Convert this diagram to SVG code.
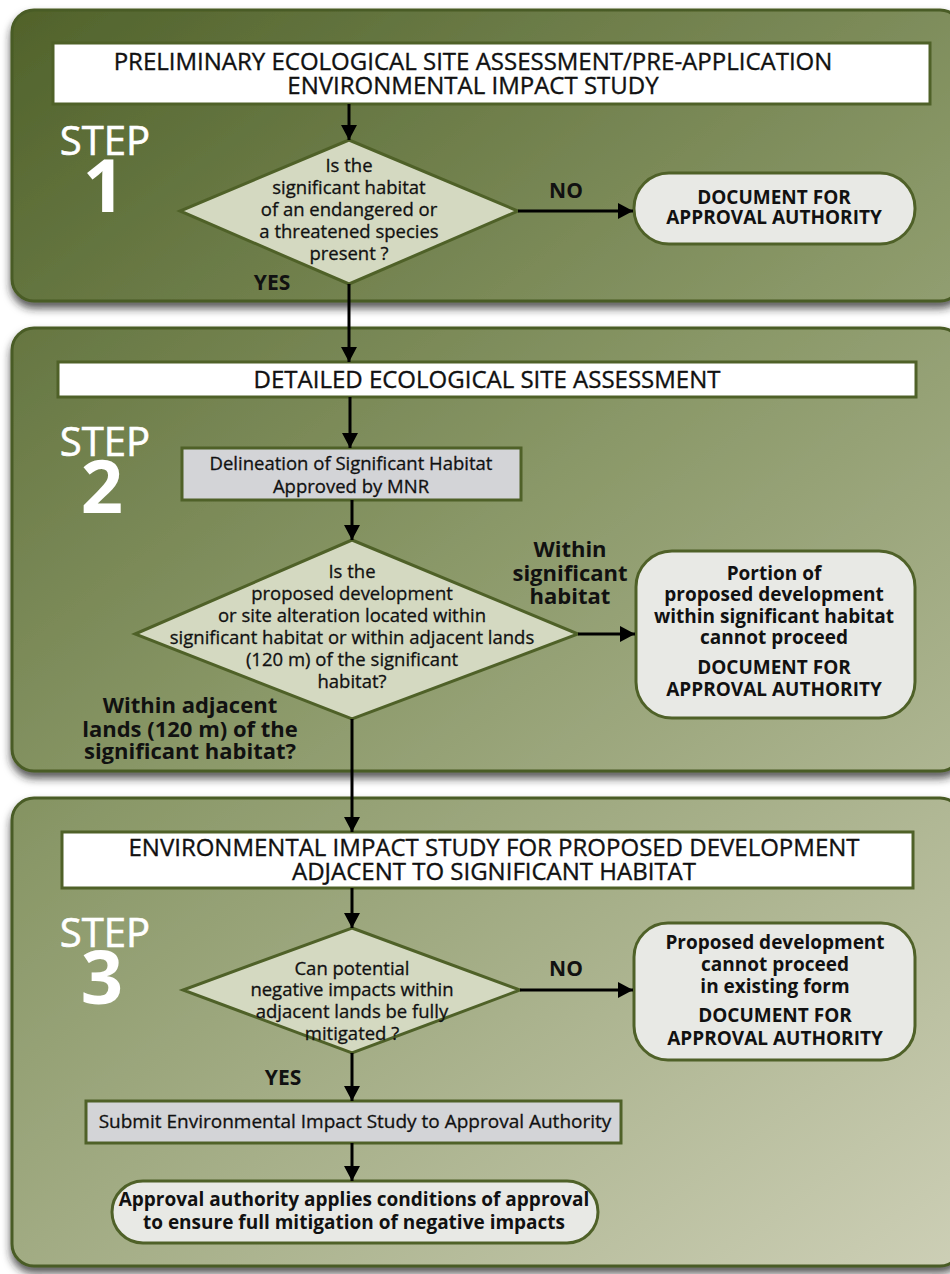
<svg xmlns="http://www.w3.org/2000/svg" width="950" height="1274" viewBox="0 0 950 1274">
<defs>
<linearGradient id="bg" gradientUnits="userSpaceOnUse" x1="0" y1="0" x2="950" y2="1274">
<stop offset="0" stop-color="#4f6129"/>
<stop offset="0.45" stop-color="#8a9868"/>
<stop offset="1" stop-color="#cdcfb6"/>
</linearGradient>
<filter id="sh" x="-5%" y="-5%" width="110%" height="115%">
<feDropShadow dx="0" dy="6" stdDeviation="4" flood-color="#222" flood-opacity="0.75"/>
</filter>
<marker id="ah" markerUnits="userSpaceOnUse" markerWidth="16" markerHeight="16" refX="15" refY="8" orient="auto">
<path d="M0,0 L15,8 L0,16 z" fill="#000"/>
</marker>
</defs>
<style>
.panel{fill:url(#bg);stroke:#4a5c25;stroke-width:3;filter:url(#sh)}
.title{fill:#fff;stroke:#4f6128;stroke-width:3}
.dia{fill:#d4d9c1;stroke:#4f6128;stroke-width:3}
.rbox{fill:#e8e9e5;stroke:#4f6128;stroke-width:3}
.gbox{fill:#d3d4d7;stroke:#4f6128;stroke-width:3}
.conn line{stroke:#000;stroke-width:3;marker-end:url(#ah)}
text{font-family:"Open Sans",Lato,"Liberation Sans",sans-serif;fill:#111;text-anchor:middle}
.tt{font-size:24px;stroke:#111;stroke-width:0.35}
.q{font-size:18.5px;stroke:#111;stroke-width:0.3}
.s{font-size:19px;stroke:#111;stroke-width:0.3}
.b{font-size:19px;font-weight:700}
.lbl{font-size:21px;font-weight:700}
.big{font-size:22px;font-weight:700}
.step{font-size:40px;fill:#fff;stroke:#fff;stroke-width:0.6}
.num{font-size:74px;font-weight:700;stroke:none}
</style>

<rect class="panel" x="12" y="10" width="950" height="291" rx="22"/>
<rect class="panel" x="12" y="328" width="950" height="443" rx="22"/>
<rect class="panel" x="12" y="798" width="950" height="468" rx="22"/>

<g id="step1">
<text class="step" x="105" y="155">STEP<tspan class="num" x="104" y="212">1</tspan></text>
</g>
<g id="step2">
<text class="step" x="105" y="456">STEP<tspan class="num" x="102" y="513">2</tspan></text>
</g>
<g id="step3">
<text class="step" x="105" y="947">STEP<tspan class="num" x="102" y="1004">3</tspan></text>
</g>

<g id="title1">
<rect class="title" x="53" y="43" width="877" height="61"/>
<text class="tt" x="473" y="70">PRELIMINARY ECOLOGICAL SITE ASSESSMENT/PRE-APPLICATION<tspan x="473" dy="24">ENVIRONMENTAL IMPACT STUDY</tspan></text>
</g>

<g id="diamond1">
<polygon class="dia" points="349,140 518,211 349,284 180,211"/>
<text class="q" x="349" y="172">Is the<tspan x="349" dy="22">significant habitat</tspan><tspan x="349" dy="22">of an endangered or</tspan><tspan x="349" dy="22">a threatened species</tspan><tspan x="349" dy="22">present ?</tspan></text>
</g>

<g id="doc1">
<rect class="rbox" x="634" y="173" width="281" height="71" rx="35"/>
<text class="b" x="774" y="204">DOCUMENT FOR<tspan x="774" dy="20">APPROVAL AUTHORITY</tspan></text>
</g>

<g id="title2">
<rect class="title" x="58" y="362" width="858" height="35"/>
<text class="tt" x="487" y="388">DETAILED ECOLOGICAL SITE ASSESSMENT</text>
</g>

<g id="delineation">
<rect class="gbox" x="182" y="448" width="339" height="52"/>
<text class="q" x="351" y="470">Delineation of Significant Habitat<tspan x="351" dy="23">Approved by MNR</tspan></text>
</g>

<g id="diamond2">
<polygon class="dia" points="352,540 578,634 352,719 135,634"/>
<text class="q" x="352" y="578">Is the<tspan x="352" dy="22">proposed development</tspan><tspan x="352" dy="22">or site alteration located within</tspan><tspan x="352" dy="22">significant habitat or within adjacent lands</tspan><tspan x="352" dy="22">(120 m) of the significant</tspan><tspan x="352" dy="22">habitat?</tspan></text>
</g>

<g id="portion">
<rect class="rbox" x="636" y="551" width="279" height="167" rx="36"/>
<text class="b" x="774" y="580">Portion of<tspan x="774" dy="21">proposed development</tspan><tspan x="774" dy="22">within significant habitat</tspan><tspan x="774" dy="21">cannot proceed</tspan><tspan x="774" dy="30">DOCUMENT FOR</tspan><tspan x="774" dy="22">APPROVAL AUTHORITY</tspan></text>
</g>

<g id="title3">
<rect class="title" x="62" y="832" width="851" height="56"/>
<text class="tt" x="494" y="856">ENVIRONMENTAL IMPACT STUDY FOR PROPOSED DEVELOPMENT<tspan x="494" dy="24">ADJACENT TO SIGNIFICANT HABITAT</tspan></text>
</g>

<g id="diamond3">
<polygon class="dia" points="352,928 520,990 352,1053 183,990"/>
<text class="q" x="352" y="975">Can potential<tspan x="352" dy="21">negative impacts within</tspan><tspan x="352" dy="22">adjacent lands be fully</tspan><tspan x="352" dy="22">mitigated ?</tspan></text>
</g>

<g id="proposed">
<rect class="rbox" x="634" y="923" width="281" height="137" rx="34"/>
<text class="b" x="775" y="949">Proposed development<tspan x="775" dy="22">cannot proceed</tspan><tspan x="775" dy="22">in existing form</tspan><tspan x="775" dy="29">DOCUMENT FOR</tspan><tspan x="775" dy="23">APPROVAL AUTHORITY</tspan></text>
</g>

<g id="submit">
<rect class="gbox" x="86" y="1101" width="535" height="42"/>
<text class="s" x="355" y="1128">Submit Environmental Impact Study to Approval Authority</text>
</g>

<g id="final">
<rect class="rbox" x="112" y="1181" width="486" height="62" rx="31"/>
<text class="b" x="354" y="1206">Approval authority applies conditions of approval<tspan x="354" dy="23">to ensure full mitigation of negative impacts</tspan></text>
</g>

<g id="labels">
<text class="lbl" x="566" y="198">NO</text>
<text class="lbl" x="272" y="290">YES</text>
<text class="big" x="570" y="557">Within<tspan x="570" dy="24">significant</tspan><tspan x="570" dy="23">habitat</tspan></text>
<text class="big" x="190" y="713">Within adjacent<tspan x="190" dy="24">lands (120 m) of the</tspan><tspan x="190" dy="22">significant habitat?</tspan></text>
<text class="lbl" x="566" y="976">NO</text>
<text class="lbl" x="283" y="1085">YES</text>
</g>

<g id="connectors" class="conn">
<line x1="349" y1="104" x2="349" y2="140"/>
<line x1="518" y1="211" x2="633" y2="211"/>
<line x1="349" y1="284" x2="349" y2="362"/>
<line x1="350" y1="397" x2="350" y2="448"/>
<line x1="352" y1="500" x2="352" y2="540"/>
<line x1="578" y1="634" x2="635" y2="634"/>
<line x1="352" y1="719" x2="352" y2="832"/>
<line x1="352" y1="888" x2="352" y2="928"/>
<line x1="520" y1="990" x2="633" y2="990"/>
<line x1="352" y1="1053" x2="352" y2="1101"/>
<line x1="352" y1="1143" x2="352" y2="1181"/>
</g>
</svg>
